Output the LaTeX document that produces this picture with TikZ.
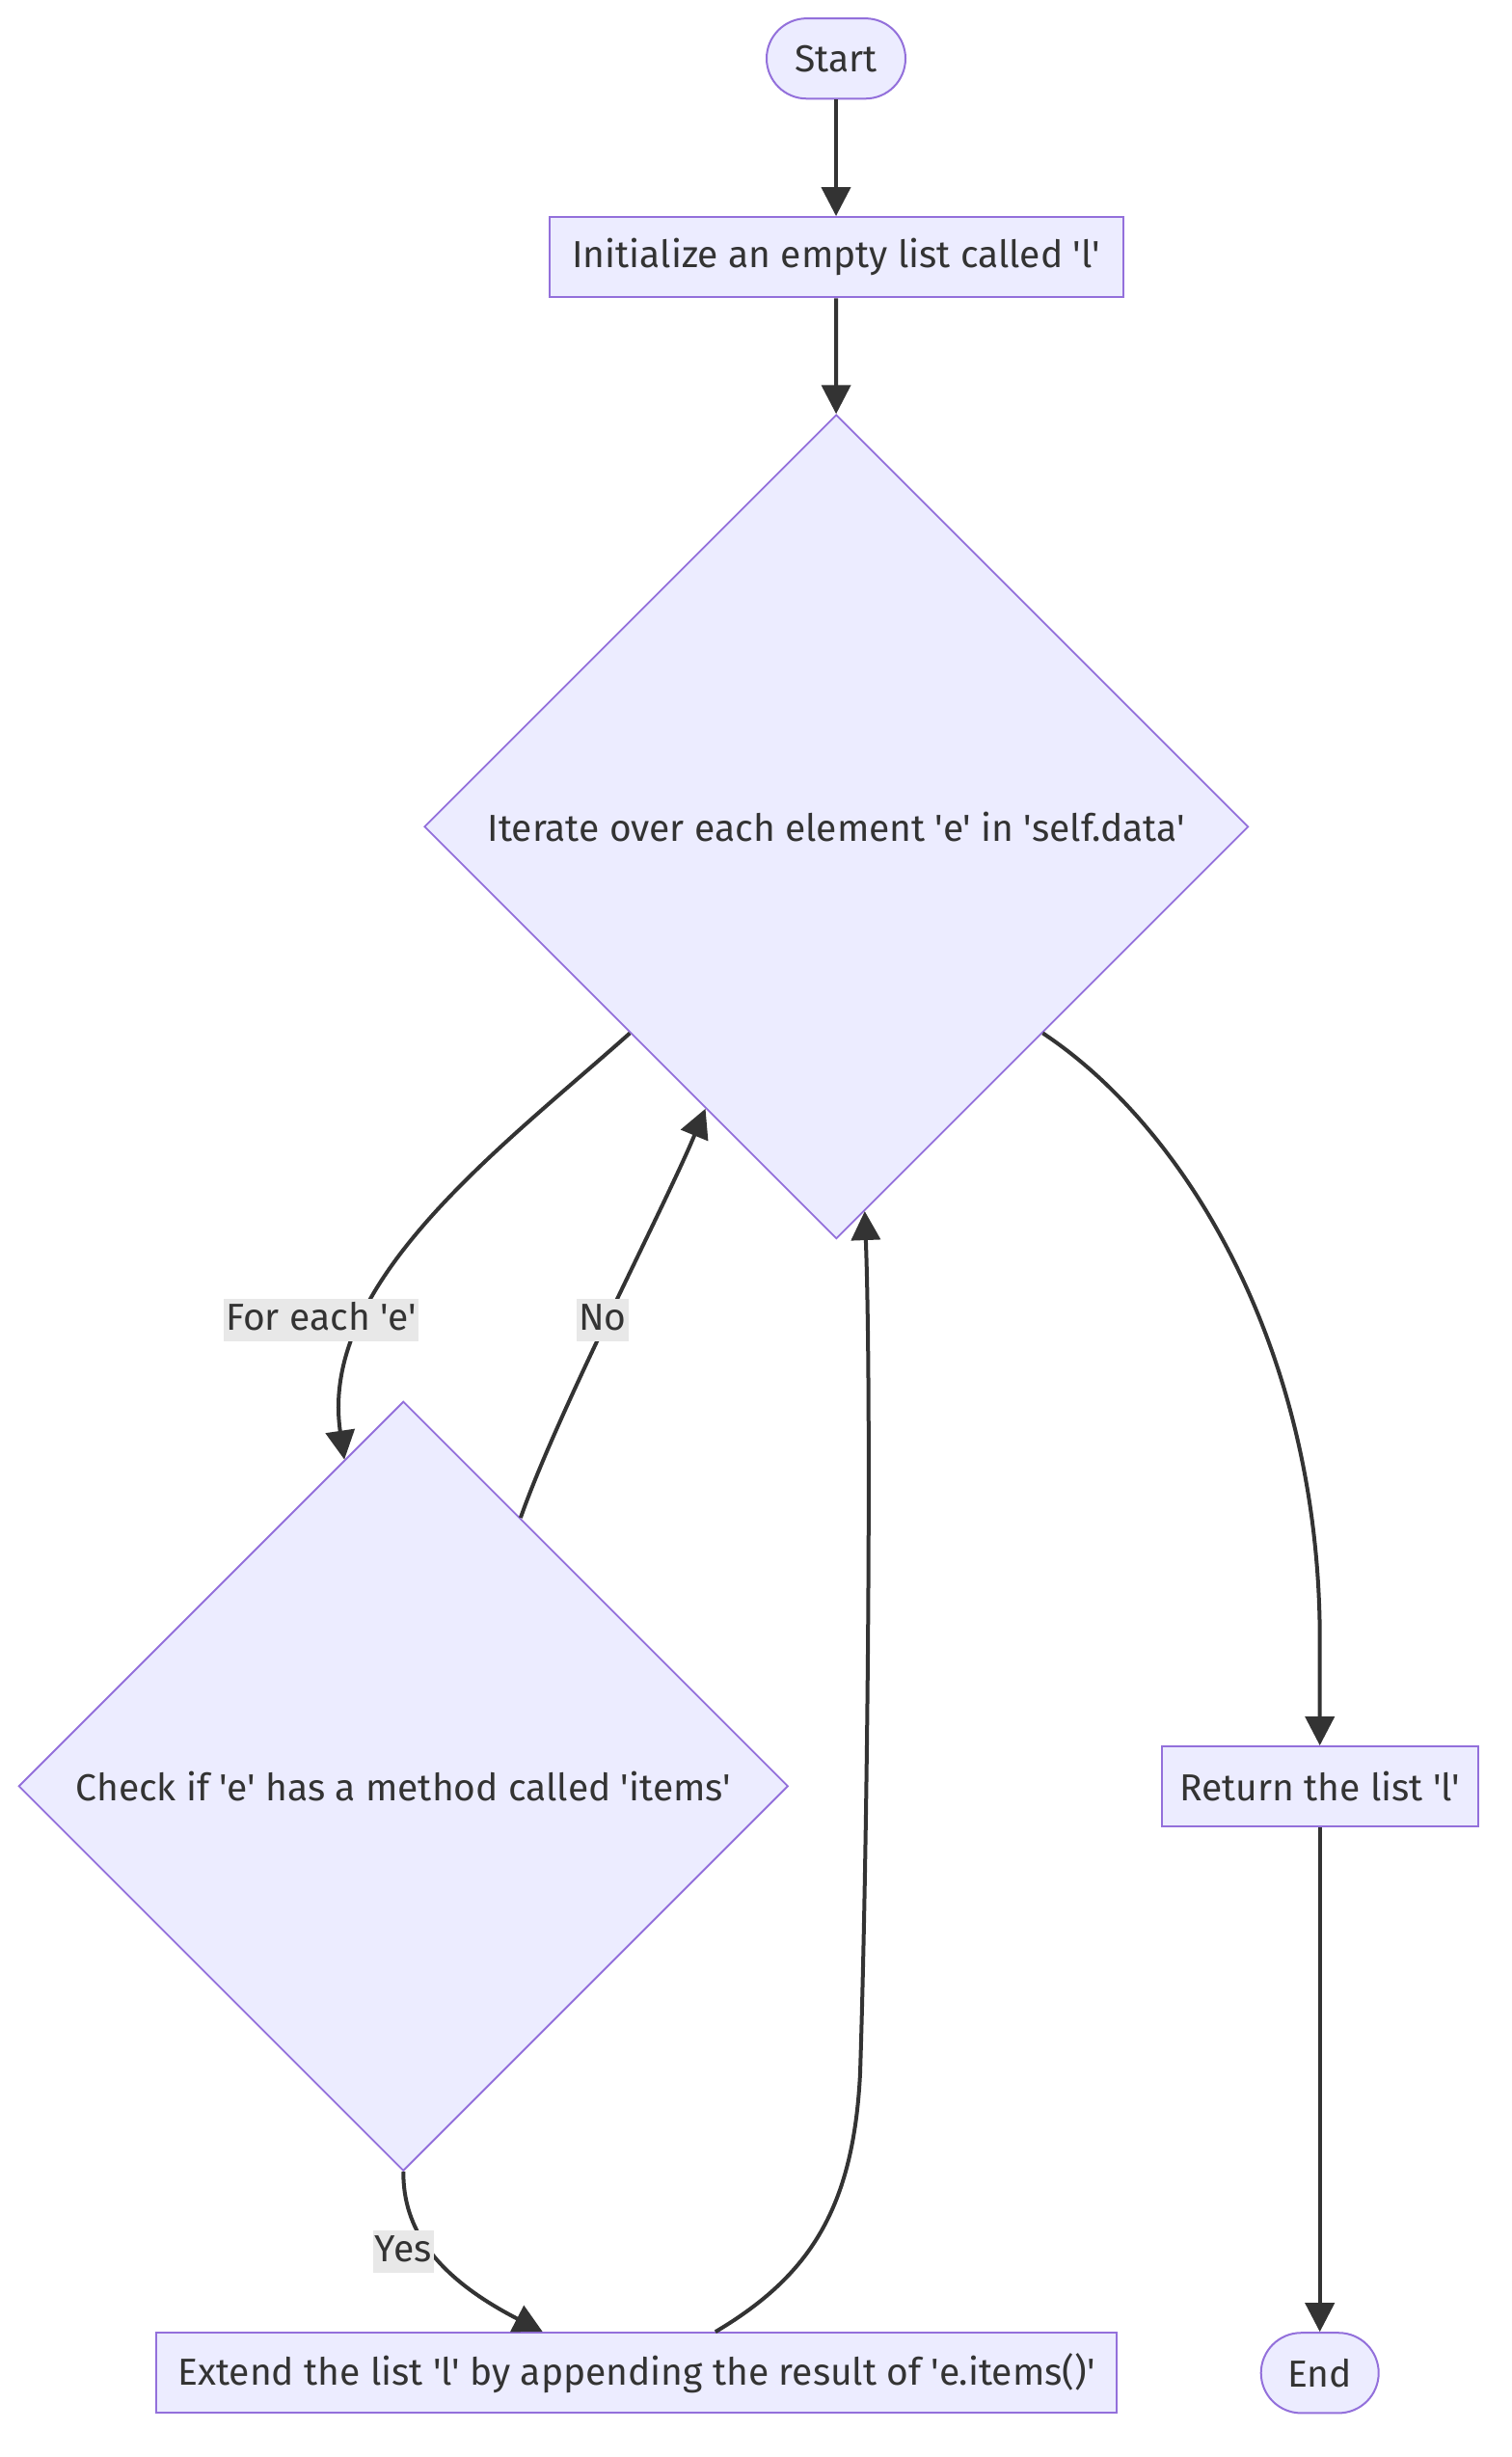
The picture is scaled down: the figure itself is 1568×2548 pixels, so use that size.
\documentclass[tikz,border=0pt]{standalone}
\usepackage{fontspec}
\setmainfont{Fira Sans}[Ligatures=TeXOff]
\usetikzlibrary{shapes.geometric,arrows.meta,calc}
\definecolor{nodefill}{HTML}{ECECFF}
\definecolor{nodedraw}{HTML}{9370DB}
\definecolor{ink}{HTML}{333333}
\definecolor{labbg}{HTML}{E8E8E8}
\begin{document}
\begin{tikzpicture}[x=0.5pt,y=-0.5pt,
  every node/.style={font=\fontsize{19.5pt}{23pt}\selectfont, text=ink},
  proc/.style={rectangle, draw=nodedraw, fill=nodefill, line width=1pt, minimum height=41.6pt, inner sep=0pt},
  term/.style={proc, rounded corners=20.8pt},
  decide/.style={diamond, aspect=1, draw=nodedraw, fill=nodefill, line width=0.9pt, inner sep=0pt},
  flow/.style={draw=ink, line width=2pt, -{Triangle[length=15pt,width=15pt]}},
  elabel/.style={fill=labbg, inner xsep=1pt, inner ysep=0pt, minimum height=22pt, text height=14pt, text depth=4pt}
]
\useasboundingbox (0,0) rectangle (1568,2548);

\node[term, minimum width=72pt] (start) at (867,60.7) {Start};
\node[proc, minimum width=297.5pt] (init) at (867,266.7) {Initialize an empty list called 'l'};
\node[decide, minimum width=427.3pt, minimum height=427.3pt] (d1) at (867.3,857.3) {Iterate over each element 'e' in 'self.data'};
\node[decide, minimum width=399pt, minimum height=399pt] (d2) at (418.3,1852.3) {Check if 'e' has a method called 'items'};
\node[proc, minimum width=163.9pt] (ret) at (1368.7,1852.7) {Return the list 'l'};
\node[proc, minimum width=498pt] (ext) at (660,2460.8) {Extend the list 'l' by appending the result of 'e.items()'};
\node[term, minimum width=61pt] (endn) at (1368.7,2460.8) {End};

\draw[flow] (start) -- (init);
\draw[flow] (init) -- (d1);
\draw[flow] (d1.south west) .. controls (520,1190) and (330,1330) .. ($(d2.north)!0.153!(d2.west)$);
\draw[flow] ($(d2.north)!0.304!(d2.east)$) .. controls (580,1460) and (690,1250) .. ($(d1.west)!0.683!(d1.south)$);
\draw[flow] (d2.south) .. controls (418,2310) and (450,2360) .. ($(ext.north west)!0.4026!(ext.north east)$);
\draw[flow] ($(ext.north west)!0.582!(ext.north east)$) .. controls (840,2360) and (885,2290) .. (892,2150) .. controls (900,1900) and (904,1450) .. ($(d1.south)!0.0688!(d1.east)$);
\draw[flow] (d1.south east) .. controls (1230,1170) and (1368.7,1400) .. (1368.7,1700) -- (ret.north);
\draw[flow] (ret) -- (endn);

\node[elabel] (lfe) at (333,1369) {For each 'e'};
\node[elabel] (lno) at (625,1369) {No};
\node[elabel] (lyes) at (418.3,2335) {Yes};
\end{tikzpicture}
\end{document}
